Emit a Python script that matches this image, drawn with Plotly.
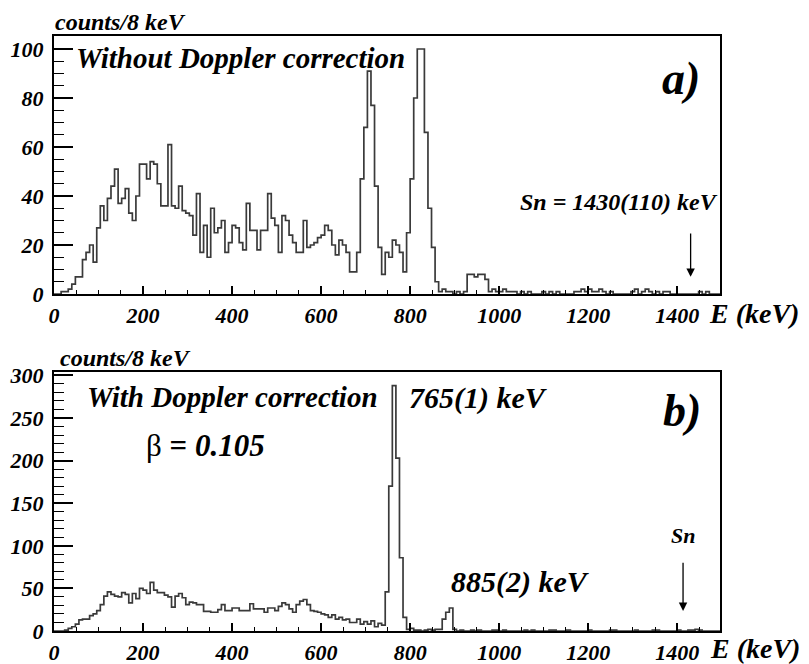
import plotly.graph_objects as go

# ---------------- data ----------------
BIN_WIDTH_KEV = 8

# Panel a) : without Doppler correction, counts per 8 keV bin (bins start at 0 keV)
counts_a = [
    0, 0, 1, 1, 2, 4, 7, 7, 14, 17, 20, 13, 27, 36, 30, 39, 44, 51, 37, 39,
    43, 33, 30, 40, 53, 53, 47, 54,
    53, 45, 36, 36, 61, 36, 35, 44, 34, 33, 32, 24, 41, 17, 28, 15, 35, 25,
    27, 30, 17, 21, 28, 27, 21, 18, 37,
    26, 26, 18, 26, 26, 41, 31, 28, 17, 32, 30, 24, 21, 17, 17, 30, 19, 20,
    21, 23, 24, 28, 26, 20, 16, 22, 20, 17,
    9, 9, 17, 47, 68, 91, 77, 44, 19, 8, 17, 15, 22, 20, 17, 9, 25, 47, 80,
    100, 100,
    66, 35, 19, 5, 1, 2, 1, 1, 0, 1, 0, 1, 8, 8, 7, 8, 8, 6,
    1, 2, 1, 1, 2, 1, 1, 1, 0, 1,      # 122-131
    0, 1, 0, 0, 0, 1, 0, 1, 0, 1,      # 132-141
    0, 0, 0, 0, 1, 1, 2, 1, 2, 1,      # 142-151
    1, 2, 1, 0, 1, 0, 0, 0, 0, 0,      # 152-161
    1, 2, 0, 1, 2, 1, 0, 1, 0, 1,      # 162-171
    1, 0, 0, 0, 0, 0, 0, 0, 0, 1,      # 172-181
    0, 1, 0, 0, 0,                     # 182-186
]

# Panel b) : with Doppler correction (beta = 0.105)
counts_b = [
    0, 0, 0, 1, 3, 5, 8, 13, 14, 14,
    18, 20, 24, 31, 41, 46, 43, 41, 40, 45,
    43, 33, 44, 38, 50, 48, 44, 57, 48, 45,
    45, 42, 40, 28, 41, 44, 39, 31, 34, 33,
    31, 31, 23, 23, 22, 22, 25, 31, 24, 24,
    27, 27, 24, 24, 24, 32, 26, 26, 26,
    22, 27, 27, 24, 29, 33, 31, 26, 22, 31,
    35, 37, 31, 24, 23, 22, 20, 19, 16, 19,
    14, 16, 13, 14, 10, 10, 14, 8, 11, 8,
    12, 5, 9, 7,
    46, 170, 288, 203, 86, 16, 2, 3, 1, 1,
    0, 1, 2, 1, 2, 2, 14, 22, 27, 2,
    0, 1, 0, 0, 1, 0, 1, 0, 0, 0,      # 113-122
    1, 1, 0, 1, 0, 0, 0, 0, 0, 1,      # 123-132
    0, 1, 0, 0, 0, 0, 1, 1, 0, 0,      # 133-142
    0, 1, 0, 0, 0, 0, 0, 1, 0, 0,      # 143-152
    0, 0, 0, 1, 1, 0, 0, 0, 0, 0,      # 153-162
    1, 0, 0, 0, 0, 1, 1, 0, 0, 0,      # 163-172
    0, 0, 1, 0, 0, 1, 1, 2, 1, 0,      # 173-182
    0, 0, 0, 0,                        # 183-186
]

x_ticks = [0, 200, 400, 600, 800, 1000, 1200, 1400]
x_range = [0, 1496]
ya_range = [0, 105.3]
yb_range = [0, 304]
ya_ticks = [0, 20, 40, 60, 80, 100]
yb_ticks = [0, 50, 100, 150, 200, 250, 300]

sn_kev = 1430
peak_b_labels = ["765(1) keV", "885(2) keV"]


def step_xy(counts):
    xs = [i * BIN_WIDTH_KEV for i in range(len(counts) + 1)]
    ys = list(counts) + [counts[-1]]
    return xs, ys


FONT = "Times New Roman, Liberation Serif, DejaVu Serif, serif"
# the page has an 8px body margin; figure sized so it ends at the window edge
OFF = 8
W, H = 809 - OFF, 664 - OFF


def px(xp):
    return (xp - OFF) / W


def py(yp):
    return 1 - (yp - OFF) / H


fig = go.Figure()
xa, ya = step_xy(counts_a)
xb, yb = step_xy(counts_b)
line_style = dict(color="#3a3a3a", width=1.7, shape="hv")
fig.add_trace(go.Scatter(x=xa, y=ya, mode="lines", line=line_style,
                         xaxis="x", yaxis="y", showlegend=False, hoverinfo="skip"))
fig.add_trace(go.Scatter(x=xb, y=yb, mode="lines", line=line_style,
                         xaxis="x2", yaxis="y2", showlegend=False, hoverinfo="skip"))

tickfont = dict(family=FONT, size=22, color="black", weight="bold", style="italic")
xdom = [px(54), px(720)]


def xaxis_cfg(anchor):
    return dict(domain=xdom, anchor=anchor, range=x_range, tickvals=x_ticks,
                ticks="inside", ticklen=8, tickwidth=1.5, tickcolor="black",
                minor=dict(ticks="inside", ticklen=4, dtick=50, tick0=0,
                           tickwidth=1.2, tickcolor="black", showgrid=False),
                showline=True, mirror=True, linecolor="black", linewidth=2,
                showgrid=False, zeroline=False, tickfont=tickfont,
                automargin=False, ticklabelstandoff=1)


def yaxis_cfg(anchor, dom, rng, tv, minor_dtick):
    return dict(domain=dom, anchor=anchor, range=rng, tickvals=tv,
                ticks="inside", ticklen=19, tickwidth=1.5, tickcolor="black",
                minor=dict(ticks="inside", ticklen=10, dtick=minor_dtick, tick0=0,
                           tickwidth=1.2, tickcolor="black", showgrid=False),
                showline=True, mirror=True, linecolor="black", linewidth=2,
                showgrid=False, zeroline=False, tickfont=tickfont,
                automargin=False, ticklabelstandoff=4)


fig.update_layout(
    width=W, height=H,
    margin=dict(l=0, r=0, t=0, b=0),
    paper_bgcolor="white", plot_bgcolor="white",
    xaxis=xaxis_cfg("y"),
    yaxis=yaxis_cfg("x", [py(294), py(36)], ya_range, ya_ticks, 5),
    xaxis2=xaxis_cfg("y2"),
    yaxis2=yaxis_cfg("x2", [py(631), py(372)], yb_range, yb_ticks, 10),
)


def bi(size):
    return dict(family=FONT, size=size, color="black", weight="bold", style="italic")


annotations = [
    # panel a
    dict(text="counts/8 keV", xref="paper", yref="paper", x=px(53), y=py(22),
         xanchor="left", yanchor="middle", showarrow=False, font=bi(24)),
    dict(text="Without Doppler correction", xref="x", yref="y", x=44, y=96.3,
         xanchor="left", yanchor="middle", showarrow=False, font=bi(29)),
    dict(text="a)", xref="x", yref="y", x=1409, y=88,
         xanchor="center", yanchor="middle", showarrow=False, font=bi(46)),
    dict(text=f"Sn = {sn_kev}(110) keV", xref="x", yref="y", x=1496, y=37.5,
         xanchor="right", yanchor="middle", showarrow=False, font=bi(24)),
    dict(text="", xref="x", yref="y", x=sn_kev, y=7, ax=sn_kev, ay=25.3,
         axref="x", ayref="y", showarrow=True, arrowhead=2, arrowsize=1.3,
         arrowwidth=1.3, arrowcolor="black"),
    dict(text="E (keV)", xref="paper", yref="paper", x=px(707), y=py(313),
         xanchor="left", yanchor="middle", showarrow=False, font=bi(28)),
    # panel b
    dict(text="counts/8 keV", xref="paper", yref="paper", x=px(58), y=py(358),
         xanchor="left", yanchor="middle", showarrow=False, font=bi(24)),
    dict(text="With Doppler correction", xref="x2", yref="y2", x=70, y=275,
         xanchor="left", yanchor="middle", showarrow=False, font=bi(29)),
    dict(text="β <b>= <i>0.105</i></b>", xref="x2", yref="y2", x=203, y=218,
         xanchor="left", yanchor="middle", showarrow=False,
         font=dict(family=FONT, size=31, color="black")),
    dict(text=peak_b_labels[0], xref="x2", yref="y2", x=792, y=273,
         xanchor="left", yanchor="middle", showarrow=False, font=bi(30)),
    dict(text="b)", xref="x2", yref="y2", x=1411, y=259,
         xanchor="center", yanchor="middle", showarrow=False, font=bi(46)),
    dict(text=peak_b_labels[1], xref="x2", yref="y2", x=887, y=57.6,
         xanchor="left", yanchor="middle", showarrow=False, font=bi(30)),
    dict(text="Sn", xref="x2", yref="y2", x=1413, y=112,
         xanchor="center", yanchor="middle", showarrow=False, font=bi(22)),
    dict(text="", xref="x2", yref="y2", x=1413, y=23.5, ax=1413, ay=82,
         axref="x2", ayref="y2", showarrow=True, arrowhead=2, arrowsize=1.3,
         arrowwidth=1.3, arrowcolor="black"),
    dict(text="E (keV)", xref="paper", yref="paper", x=px(708), y=py(648),
         xanchor="left", yanchor="middle", showarrow=False, font=bi(28)),
]
fig.update_layout(annotations=annotations)

fig.write_html("out.html")
